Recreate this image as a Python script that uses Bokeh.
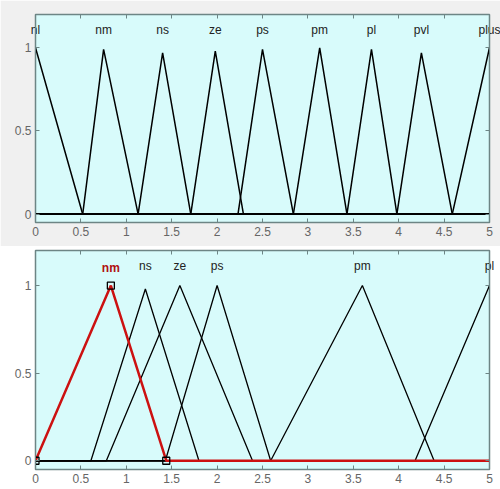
from bokeh.plotting import figure
from bokeh.models import Range1d, FixedTicker, LinearAxis, Label
from bokeh.layouts import column
from bokeh.embed import file_html
from bokeh.resources import INLINE

# ---- data: top panel membership functions (triangles) ----
top_names = ["nl", "nm", "ns", "ze", "ps", "pm", "pl", "pvl", "plus"]
top_left = [0.0, 0.52, 1.13, 1.71, 2.23, 2.84, 3.43, 3.98, 4.59]
top_peak = [0.0, 0.75, 1.40, 1.98, 2.50, 3.13, 3.70, 4.25, 5.0]
top_right = [0.52, 1.13, 1.71, 2.29, 2.84, 3.43, 3.98, 4.59, 5.0]
top_height = [1.0, 0.99, 0.97, 0.98, 0.99, 1.0, 0.99, 0.97, 1.0]

# ---- data: bottom panel membership functions ----
bot_names = ["nm", "ns", "ze", "ps", "pm", "pl"]
bot_left = [0.0, 0.61, 0.78, 1.43, 2.59, 4.18]
bot_peak = [0.83, 1.21, 1.59, 2.00, 3.60, 5.0]
bot_right = [1.44, 1.80, 2.39, 2.59, 4.39, 5.0]
bot_height = [1.0, 0.98, 1.0, 1.0, 1.0, 1.0]
selected = 0

x_ticks = [0, 0.5, 1, 1.5, 2, 2.5, 3, 3.5, 4, 4.5, 5]
x_tick_labels = ["0", "0.5", "1", "1.5", "2", "2.5", "3", "3.5", "4", "4.5", "5"]
y_ticks = [0, 0.5, 1]
y_tick_labels = ["0", "0.5", "1"]
x_min, x_max = 0, 5
y_min, y_max = -0.05, 1.2
label_y = 1.10

PLOT_BG = "#d8fbfb"
FRAME = "#6d8585"
TICK_TXT = "#666666"
FONT = "Liberation Sans"


def key(v):
    return int(v) if float(v).is_integer() else v


def mf_points(l, pk, r, h):
    xs, ys = [], []
    if pk > x_min:
        xs += [x_min, l]
        ys += [0, 0]
    xs.append(pk)
    ys.append(h)
    if pk < x_max:
        xs += [r, x_max]
        ys += [0, 0]
    return xs, ys


def style(p, label_xs, label_names):
    p.background_fill_color = PLOT_BG
    p.outline_line_color = FRAME
    p.outline_line_width = 1.5
    p.grid.visible = False
    p.xaxis.ticker = FixedTicker(ticks=x_ticks)
    p.yaxis.ticker = FixedTicker(ticks=y_ticks)
    p.xaxis.major_label_overrides = {key(t): s for t, s in zip(x_ticks, x_tick_labels)}
    p.yaxis.major_label_overrides = {key(t): s for t, s in zip(y_ticks, y_tick_labels)}
    for ax in p.xaxis + p.yaxis:
        ax.major_tick_in = 4
        ax.major_tick_out = 0
        ax.minor_tick_line_color = None
        ax.axis_line_color = FRAME
        ax.major_tick_line_color = FRAME
        ax.major_label_text_color = TICK_TXT
        ax.major_label_text_font = FONT
        ax.major_label_text_font_size = "12px"
        ax.major_label_standoff = 4
    # top axis: box ticks as minor ticks, MF names as (invisible-tick) major labels
    # pulled down into the frame with a negative standoff
    top_ax = LinearAxis(ticker=FixedTicker(ticks=list(label_xs), minor_ticks=x_ticks),
                        major_label_overrides={key(x): n for x, n in zip(label_xs, label_names)},
                        major_tick_line_color=None, major_tick_in=0, major_tick_out=0,
                        minor_tick_line_color=FRAME, minor_tick_in=4, minor_tick_out=0,
                        axis_line_color=FRAME, major_label_standoff=-22,
                        major_label_text_font=FONT, major_label_text_font_size="12px",
                        major_label_text_color="#222222")
    right_ax = LinearAxis(ticker=FixedTicker(ticks=y_ticks), major_tick_in=4, major_tick_out=0,
                          minor_tick_line_color=None, axis_line_color=FRAME,
                          major_tick_line_color=FRAME, major_label_text_font_size="1px",
                          major_label_overrides={key(t): "" for t in y_ticks},
                          major_label_standoff=0)
    p.add_layout(top_ax, "above")
    p.add_layout(right_ax, "right")


# ---- top figure ----
p1 = figure(width=500, height=246, output_backend="svg", toolbar_location=None,
            x_range=Range1d(x_min, x_max), y_range=Range1d(y_min, y_max),
            min_border_left=35, min_border_right=11, min_border_top=14, min_border_bottom=24)
p1.border_fill_color = "#f0f0f0"
style(p1, top_peak, top_names)
for l, pk, r, h in zip(top_left, top_peak, top_right, top_height):
    xs, ys = mf_points(l, pk, r, h)
    p1.line(xs, ys, line_color="black", line_width=1.5)

# ---- bottom figure ----
p2 = figure(width=500, height=243, output_backend="svg", toolbar_location=None,
            x_range=Range1d(x_min, x_max), y_range=Range1d(y_min, y_max),
            min_border_left=35, min_border_right=9, min_border_top=4, min_border_bottom=20)
p2.border_fill_color = "white"
other_idx = [i for i in range(len(bot_names)) if i != selected]
style(p2, [bot_peak[i] for i in other_idx], [bot_names[i] for i in other_idx])
for i in other_idx:
    xs, ys = mf_points(bot_left[i], bot_peak[i], bot_right[i], bot_height[i])
    p2.line(xs, ys, line_color="black", line_width=1.3)

l, pk, r, h = bot_left[selected], bot_peak[selected], bot_right[selected], bot_height[selected]
xs, ys = mf_points(l, pk, r, h)
p2.line(xs, ys, line_color="#cc1111", line_width=2.5)
p2.scatter([l, pk, r], [0, h, 0], marker="square", size=7, fill_color=None,
           line_color="black", line_width=1.3)
p2.add_layout(Label(x=pk, y=label_y, text=bot_names[selected], text_align="center",
                    text_baseline="middle", text_font=FONT, text_font_size="12px",
                    text_font_style="bold", text_color="#b01010"))

layout = column(p1, p2, spacing=0)
open("out.html", "w").write(file_html(layout, INLINE))
